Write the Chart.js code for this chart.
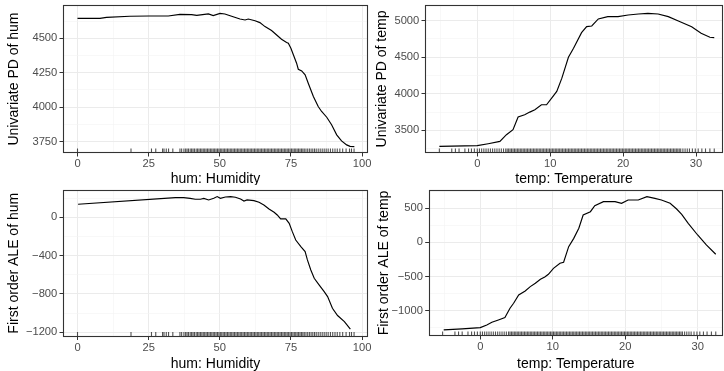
<!DOCTYPE html>
<html><head><meta charset="utf-8">
<script src="https://cdn.jsdelivr.net/npm/chart.js@4/dist/chart.umd.min.js"></script>
<style>
html,body{margin:0;padding:0;background:#fff;width:724px;height:371px;overflow:hidden;position:relative;}
canvas{position:absolute;display:block;}
</style></head><body>
<canvas id="c1" width="376" height="185" style="left:0;top:0;width:376px;height:185px"></canvas>
<canvas id="c2" width="354" height="185" style="left:370px;top:0;width:354px;height:185px"></canvas>
<canvas id="c3" width="376" height="186" style="left:0;top:185px;width:376px;height:186px"></canvas>
<canvas id="c4" width="354" height="186" style="left:370px;top:185px;width:354px;height:186px"></canvas>
<script>
// ---- data ----
const humPdX = [0, 7.9, 10.2, 18.4, 25.1, 31.9, 36, 40.1, 41.9, 46, 47.7, 50.1, 51.8, 54.7, 57.1, 58.9, 60, 62.4, 64.1, 65.9, 68.2, 70, 71.7, 73.5, 74.1, 75, 75.9, 77, 77.6, 78.8, 80, 81.1, 82.9, 84.6, 85.8, 87.6, 89.3, 91.1, 92.8, 94.6, 95.8, 97.3];
const humPdY = [4645, 4645, 4652, 4660, 4662, 4662, 4674, 4672, 4667, 4677, 4665, 4681, 4677, 4657, 4640, 4633, 4640, 4628, 4614, 4585, 4556, 4524, 4493, 4469, 4464, 4427, 4379, 4319, 4275, 4263, 4234, 4173, 4077, 4004, 3968, 3926, 3871, 3798, 3754, 3725, 3714, 3712];

const tempPdX = [-5.2, 0, 1.5, 3.1, 4.0, 4.9, 5.6, 6.5, 7.2, 7.9, 8.8, 9.5, 10.2, 10.9, 11.6, 12.5, 13.2, 14.3, 15.0, 15.7, 16.6, 17.9, 19.3, 20.7, 22.1, 23.4, 24.8, 26.2, 27.5, 29.4, 30.7, 31.9, 32.5];
const tempPdY = [3282, 3291, 3318, 3350, 3441, 3509, 3682, 3714, 3750, 3782, 3850, 3850, 3941, 4032, 4214, 4500, 4623, 4836, 4918, 4927, 5023, 5055, 5055, 5077, 5091, 5100, 5091, 5055, 5000, 4918, 4827, 4773, 4768];

const humAleX = [0.2, 34.4, 37.3, 39.6, 41.4, 43.2, 44.4, 46.1, 47.9, 49.1, 50.2, 52, 53.8, 55.5, 57.3, 58.5, 59.6, 62, 63.8, 65.5, 67.3, 69.1, 70.2, 71.4, 73.2, 74.4, 75.5, 76.7, 78.5, 80, 80.8, 82, 83.2, 84.9, 86.7, 87.9, 89.6, 91.4, 93.8, 95.9];
const humAleY = [136, 205, 205, 198, 188, 188, 198, 181, 198, 216, 198, 212, 216, 209, 191, 170, 181, 174, 157, 129, 87, 52, 24, -17, -17, -63, -150, -237, -306, -358, -445, -550, -637, -706, -776, -828, -950, -1026, -1089, -1168];

const tempAleX = [-5.05, -2.5, 0, 0.9, 1.6, 2.5, 3.4, 4.1, 4.6, 5.3, 6.2, 6.9, 7.6, 8.3, 8.9, 9.4, 10.1, 11, 11.5, 12.2, 12.9, 13.6, 14.2, 15.2, 15.8, 17, 18.6, 19.5, 20.4, 21.8, 23, 24.1, 25, 26.2, 27.1, 27.8, 28.7, 30, 31.2, 32.5];
const tempAleY = [-1281, -1266, -1247, -1208, -1169, -1135, -1101, -964, -891, -770, -711, -648, -599, -541, -507, -468, -380, -307, -292, -63, 58, 205, 399, 448, 536, 594, 594, 570, 619, 619, 667, 643, 619, 570, 487, 409, 278, 107, -39, -175];

// rug (observed data positions along x)
const humRug = [0.0, 18.8, 26.0, 27.5, 29.9, 30.4, 31.2, 32.0, 33.5, 36.0, 36.6, 37.4, 38.0, 38.5, 39.0, 39.6, 40.1, 40.6, 41.1, 41.7, 42.2, 42.7, 43.2, 43.7, 44.2, 44.7, 45.2, 45.7, 46.2, 46.7, 47.2, 47.7, 48.2, 48.7, 49.2, 49.7, 50.2, 50.7, 51.2, 51.7, 52.2, 52.7, 53.2, 53.7, 54.2, 54.7, 55.2, 55.7, 56.2, 56.7, 57.2, 57.7, 58.2, 58.7, 59.2, 59.7, 60.2, 60.7, 61.2, 61.7, 62.2, 62.7, 63.2, 63.7, 64.2, 64.7, 65.2, 65.7, 66.2, 66.7, 67.2, 67.7, 68.2, 68.7, 69.2, 69.7, 70.2, 70.7, 71.2, 71.7, 72.2, 72.7, 73.2, 73.7, 74.2, 74.7, 75.2, 75.7, 76.2, 76.7, 77.2, 77.7, 78.2, 78.7, 79.2, 79.7, 80.3, 80.9, 81.5, 82.1, 82.7, 83.3, 83.9, 84.6, 85.3, 86.0, 86.7, 87.4, 88.1, 88.9, 89.7, 90.5, 91.3, 92.2, 93.2, 94.4, 95.6, 96.3, 97.2];
const tempRug = [-5.2, -3.5, -3.0, -2.5, -1.7, -1.2, -0.8, -0.4, 0.0, 0.3, 0.6, 0.9, 1.2, 1.5, 1.8, 2.1, 2.4, 2.7, 3.0, 3.3, 3.6, 3.9, 4.1, 4.3, 4.5, 4.7, 4.9, 5.1, 5.3, 5.5, 5.7, 5.9, 6.1, 6.3, 6.5, 6.7, 6.9, 7.1, 7.3, 7.5, 7.7, 7.9, 8.1, 8.3, 8.5, 8.7, 8.9, 9.1, 9.3, 9.5, 9.7, 9.9, 10.1, 10.3, 10.5, 10.7, 10.9, 11.1, 11.3, 11.5, 11.7, 11.9, 12.1, 12.3, 12.5, 12.7, 12.9, 13.1, 13.3, 13.5, 13.7, 13.9, 14.1, 14.3, 14.5, 14.7, 14.9, 15.1, 15.3, 15.5, 15.7, 15.9, 16.1, 16.3, 16.5, 16.7, 16.9, 17.1, 17.3, 17.5, 17.7, 17.9, 18.1, 18.3, 18.5, 18.7, 18.9, 19.1, 19.3, 19.5, 19.7, 19.9, 20.1, 20.3, 20.5, 20.7, 20.9, 21.1, 21.3, 21.5, 21.7, 21.9, 22.1, 22.3, 22.5, 22.7, 22.9, 23.1, 23.3, 23.5, 23.7, 23.9, 24.1, 24.3, 24.5, 24.7, 24.9, 25.1, 25.3, 25.5, 25.7, 25.9, 26.1, 26.3, 26.5, 26.7, 26.9, 27.1, 27.3, 27.5, 27.7, 27.9, 28.2, 28.5, 28.8, 29.1, 29.5, 29.9, 30.3, 30.8, 31.3, 31.9, 32.5];

// tick labels (major breaks)
const humTicks = [0, 25, 50, 75, 100];
const tempTicks = [0, 10, 20, 30];
const humPdTicks = [3750, 4000, 4250, 4500];
const tempPdTicks = [3500, 4000, 4500, 5000];
const humAleTicks = [-1200, -800, -400, 0];
const tempAleTicks = [-1000, -500, 0, 500];

// ---- drawing ----
Chart.defaults.font.family = "'Liberation Sans', Arial, Helvetica, sans-serif";
const MINUS = '\u2212';
const fmt = v => v < 0 ? MINUS + Math.abs(v) : String(v);

function axis(dir, min, max, major, title, size, tpad) {
  const step = major[1] - major[0];
  return {
    type: 'linear', position: dir === 'x' ? 'bottom' : 'left', min, max,
    afterBuildTicks: s => {
      const t = major.map(v => ({value: v, mj: true}));
      for (let v = major[0] - step / 2; v <= max; v += step) if (v >= min) t.push({value: v, mj: false});
      t.sort((a, b) => a.value - b.value);
      s.ticks = t;
    },
    ticks: {autoSkip: false, maxRotation: 0, minRotation: 0, color: '#4D4D4D',
      font: {size: 11.2}, padding: dir === 'x' ? 1 : 2.2,
      callback: (v, i, ticks) => ticks[i].mj ? fmt(v) : ''},
    grid: {
      color: c => (c.tick && c.tick.mj) ? '#EBEBEB' : '#F3F3F3',
      lineWidth: c => (c.tick && c.tick.mj) ? 1 : 0.6,
      tickColor: c => (c.tick && c.tick.mj) ? '#333333' : 'rgba(0,0,0,0)',
      tickLength: 3.5, tickWidth: 1, drawTicks: true
    },
    border: {display: false},
    title: {display: true, text: title, color: '#000', font: {size: 14, lineHeight: 1},
      padding: dir === 'x' ? {top: 0, bottom: tpad} : {top: tpad, bottom: 0}},
    afterFit: s => {
      if (dir === 'x') s.height = size; else s.width = size;
      s.paddingTop = 0; s.paddingBottom = 0; s.paddingLeft = 0; s.paddingRight = 0;
    }
  };
}

function rugPlugin(values) {
  return {
    id: 'rug',
    afterDatasetsDraw(chart) {
      const {ctx, chartArea: a, scales: {x}} = chart;
      ctx.save();
      ctx.beginPath(); ctx.rect(a.left, a.top, a.right - a.left, a.bottom - a.top); ctx.clip();
      ctx.strokeStyle = 'rgba(0,0,0,0.68)'; ctx.lineWidth = 1.1;
      values.forEach(v => {
        const px = x.getPixelForValue(v);
        ctx.beginPath(); ctx.moveTo(px, a.bottom); ctx.lineTo(px, a.bottom - 4.5); ctx.stroke();
      });
      ctx.restore();
    }
  };
}
const borderPlugin = {
  id: 'pborder',
  afterDraw(chart) {
    const {ctx, chartArea: a} = chart;
    ctx.save(); ctx.strokeStyle = '#333333'; ctx.lineWidth = 1.1;
    const l = Math.round(a.left) + 0.5, t = Math.round(a.top) + 0.5;
    const r = Math.round(a.right) - 0.5, b = Math.round(a.bottom) - 0.5;
    ctx.strokeRect(l, t, r - l, b - t);
    ctx.restore();
  }
};

function panel(id, o) {
  const data = o.xs.map((x, i) => ({x, y: o.ys[i]}));
  new Chart(document.getElementById(id), {
    type: 'scatter',
    data: {datasets: [{data, showLine: true, borderColor: '#000', borderWidth: 1.15,
      pointRadius: 0, pointHoverRadius: 0, tension: 0, fill: false}]},
    options: {
      responsive: false, animation: false, devicePixelRatio: 1, events: [],
      layout: {padding: o.pad},
      plugins: {legend: {display: false}, tooltip: {enabled: false}},
      scales: {
        x: axis('x', o.xr[0], o.xr[1], o.xt, o.xTitle, o.xH, o.xTp),
        y: axis('y', o.yr[0], o.yr[1], o.yt, o.yTitle, o.yW, o.yTp)
      }
    },
    plugins: [rugPlugin(o.rug), borderPlugin]
  });
}

panel('c1', {xs: humPdX, ys: humPdY, rug: humRug, xr: [-5.1, 102.1], yr: [3666, 4742],
  xt: humTicks, yt: humPdTicks, xTitle: 'hum: Humidity', yTitle: 'Univariate PD of hum',
  pad: {left: 0, top: 5, right: 8, bottom: 0}, xH: 32, yW: 63, xTp: -1, yTp: 7});
panel('c2', {xs: tempPdX, ys: tempPdY, rug: tempRug, xr: [-7.17, 33.7], yr: [3191, 5214],
  xt: tempTicks, yt: tempPdTicks, xTitle: 'temp: Temperature', yTitle: 'Univariate PD of temp',
  pad: {left: 0, top: 5, right: 1, bottom: 0}, xH: 32, yW: 55, xTp: -1, yTp: 5.5});
panel('c3', {xs: humAleX, ys: humAleY, rug: humRug, xr: [-5.1, 102.1], yr: [-1245, 285],
  xt: humTicks, yt: humAleTicks, xTitle: 'hum: Humidity', yTitle: 'First order ALE of hum',
  pad: {left: 0, top: 5, right: 8, bottom: 0}, xH: 34.5, yW: 63, xTp: -0.5, yTp: 7});
panel('c4', {xs: tempAleX, ys: tempAleY, rug: tempRug, xr: [-7.12, 33.5], yr: [-1370, 765],
  xt: tempTicks, yt: tempAleTicks, xTitle: 'temp: Temperature', yTitle: 'First order ALE of temp',
  pad: {left: 0, top: 5, right: 1, bottom: 0}, xH: 35, yW: 58.7, xTp: -0.5, yTp: 7.5});
</script>
</body></html>
